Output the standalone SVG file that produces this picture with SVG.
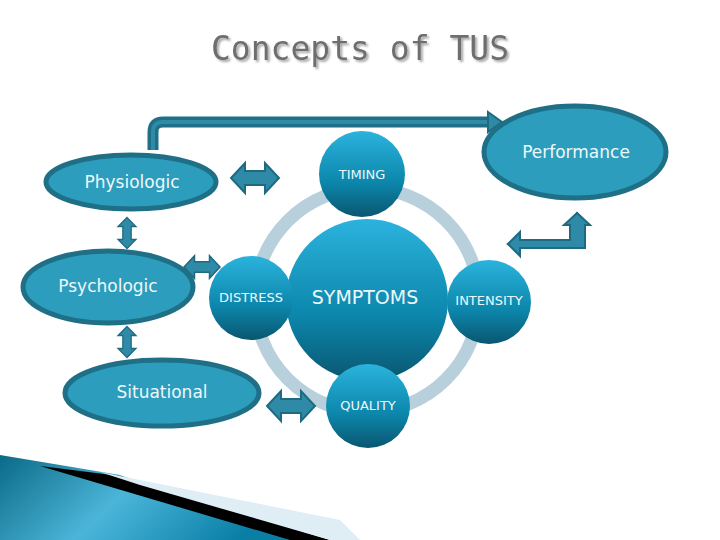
<svg xmlns="http://www.w3.org/2000/svg" width="720" height="540" viewBox="0 0 720 540">
<defs>
<linearGradient id="cg" x1="0" y1="0" x2="0" y2="1"><stop offset="0" stop-color="#2bb3dd"/><stop offset="0.6" stop-color="#0c86ab"/><stop offset="1" stop-color="#0a5670"/></linearGradient>
<linearGradient id="sw" x1="0" y1="0" x2="1" y2="0.3"><stop offset="0" stop-color="#0b6a86"/><stop offset="0.5" stop-color="#4bb5d9"/><stop offset="1" stop-color="#0a7fa6"/></linearGradient>
<filter id="sh"><feDropShadow dx="2" dy="2" stdDeviation="1" flood-color="#000" flood-opacity="0.35"/></filter>
<path id="dh" d="M-24,0 L-10,-15 L-10,-7 L10,-7 L10,-15 L24,0 L10,15 L10,7 L-10,7 L-10,15 Z"/>
</defs>
<style>
.el{fill:#2c9dbc;stroke:#1f6f87;stroke-width:5}
.ci{fill:url(#cg)}
.et{font-family:"DejaVu Sans",sans-serif;font-size:17px;fill:#eef8fb;text-anchor:middle}
.ct{font-family:"DejaVu Sans",sans-serif;font-size:13px;fill:#eef8fb;text-anchor:middle}
.ar{fill:#2e8aa6;stroke:#1e6a80;stroke-width:2}
</style>
<rect width="720" height="540" fill="#fff"/>
<text x="360" y="60" font-family="DejaVu Sans Mono,monospace" font-size="33" fill="#6e6e6e" text-anchor="middle" filter="url(#sh)">Concepts of TUS</text>
<g id="swoosh">
<polygon points="0,455 120,475 300,540 0,540" fill="url(#sw)"/>
<polygon points="40,466 120,476 330,540 290,540" fill="#000"/>
<polygon points="100,472 340,520 360,540 330,540 140,485" fill="#dfeef4"/>
</g>
<circle id="ring" cx="367" cy="300" r="112" fill="none" stroke="#b8d0dc" stroke-width="13"/>
<g id="connectors">
<path d="M153,150 L153,132 Q153,122 163,122 L492,122" fill="none" stroke="#1f6f87" stroke-width="11"/>
<path d="M153,150 L153,132 Q153,122 163,122 L492,122" fill="none" stroke="#2e8aa6" stroke-width="4"/>
<polygon points="488,112 502,122 488,132" class="ar"/>
<use href="#dh" x="255" y="178" class="ar"/>
<use href="#dh" transform="translate(127,233) rotate(90) scale(0.65,0.6)" class="ar"/>
<use href="#dh" transform="translate(127,342) rotate(90) scale(0.65,0.6)" class="ar"/>
<use href="#dh" transform="translate(202,267) scale(0.75,0.75)" class="ar"/>
<use href="#dh" x="291" y="406" class="ar"/>
<path d="M520,247 L581,247 L581,222 L574,222 L574,240 L520,240 Z M520,236 L508,244 L520,252 Z" class="ar"/>
<polygon points="567,225 577,213 589,225" class="ar"/>
<path d="M520,240 L520,232 L508,244 L520,256 L520,248 L585,248 L585,225 L590,225 L577,213 L564,225 L570,225 L570,240 Z" class="ar"/>
</g>
<g id="physiologic"><ellipse cx="131" cy="182" rx="85" ry="27" class="el"/><text x="132" y="188" class="et">Physiologic</text></g>
<g id="psychologic"><ellipse cx="108" cy="287" rx="85" ry="36" class="el"/><text x="108" y="292" class="et">Psychologic</text></g>
<g id="situational"><ellipse cx="162" cy="393" rx="97" ry="33" class="el"/><text x="162" y="398" class="et">Situational</text></g>
<g id="performance"><ellipse cx="575" cy="152" rx="91" ry="46" class="el"/><text x="576" y="158" class="et">Performance</text></g>
<g id="symptoms"><circle cx="367" cy="300" r="81" class="ci"/><text x="365" y="304" font-family="DejaVu Sans,sans-serif" font-size="19" fill="#eef8fb" text-anchor="middle">SYMPTOMS</text></g>
<g id="timing"><circle cx="362" cy="174" r="43" class="ci"/><text x="362" y="179" class="ct">TIMING</text></g>
<g id="distress"><circle cx="251" cy="298" r="42" class="ci"/><text x="251" y="302" class="ct">DISTRESS</text></g>
<g id="intensity"><circle cx="489" cy="302" r="42" class="ci"/><text x="489" y="305" class="ct" font-size="11">INTENSITY</text></g>
<g id="quality"><circle cx="368" cy="406" r="42" class="ci"/><text x="368" y="410" class="ct">QUALITY</text></g>
</svg>
